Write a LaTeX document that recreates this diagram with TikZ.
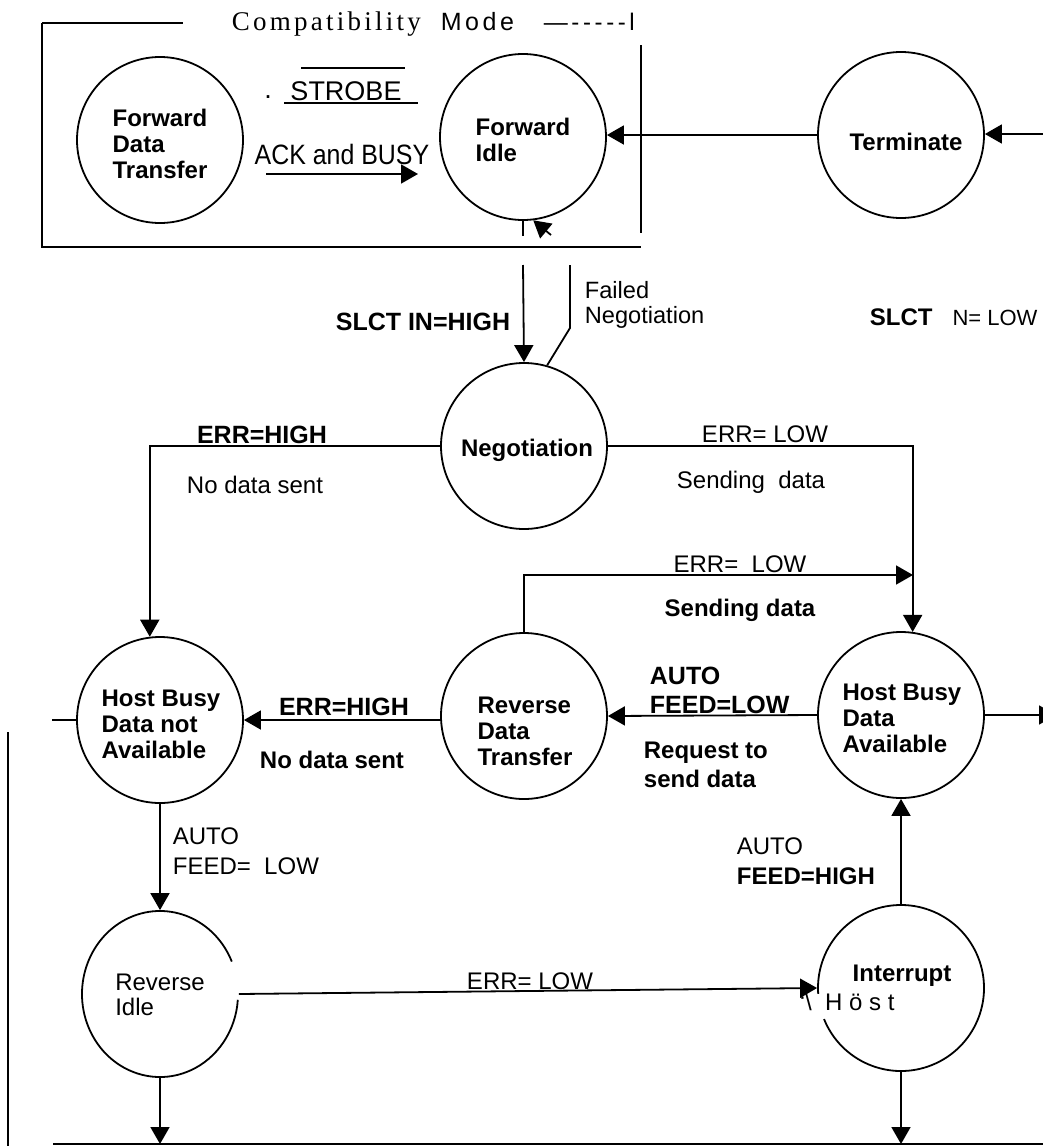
\documentclass[tikz,border=0pt]{standalone}
\usepackage{fontspec}
\setmainfont{Liberation Sans}
\newfontfamily\titleserif{Liberation Serif}[LetterSpace=12]
\newfontfamily\titlesans{Liberation Sans}[LetterSpace=14]
\newfontfamily\dashfont{Liberation Sans}[LetterSpace=15]
\newfontfamily\narrowsans{Liberation Sans}[FakeStretch=0.89]
\usetikzlibrary{arrows.meta,calc,shapes.geometric}

\begin{document}
\begin{tikzpicture}[x=0.5pt,y=-0.5pt,line width=0.9pt,
  stnode/.style={circle,draw,minimum size=83pt,inner sep=0pt},
  stext/.style={font=\fontsize{12}{13}\selectfont\bfseries,align=left,inner sep=0pt},
  lab/.style={font=\fontsize{12}{13}\selectfont,align=left,inner sep=0pt},
  blab/.style={font=\fontsize{12.5}{14.5}\selectfont\bfseries,align=left,inner sep=0pt},
  arr/.style={-{Triangle[length=8.5pt,width=9.5pt]}},
]
\useasboundingbox (0,0) rectangle (1043,1146);
\clip (0,0) rectangle (1043,1146);

% ---- compatibility mode frame and title
\node[anchor=base west,inner sep=0,font=\titleserif\fontsize{13.5}{15}\selectfont] (ttlA) at (231,30) {Compatibility};
\node[anchor=base west,inner sep=0,font=\titlesans\fontsize{12.5}{15}\selectfont] (ttlB) at (440,30) {Mode};
\node[anchor=base west,inner sep=0,font=\dashfont\fontsize{12}{14}\selectfont] (ttlC) at (543,30) {—-{}-{}-{}-{}-l};
\draw (42,23) -- (183,23);
\draw (42,23) -- (42,247) -- (641,247);
\draw (641,45) -- (641,233);

% ---- states
\node[stnode] (fdt) at (160,140) {};
\node[stnode] (fi) at (523,137) {};
\node[stnode] (term) at (901,135) {};
\node[stnode] (neg) at (524,446) {};
\node[stnode] (hbdna) at (160,720) {};
\node[stnode] (rdt) at (524,716) {};
\node[stnode] (hbda) at (901,715) {};
\node[circle,minimum size=83pt,inner sep=0pt] (intr) at (901,988) {};
\node[ellipse,minimum width=78pt,minimum height=83pt,inner sep=0pt] (ridle) at (160,994) {};
% outlines with their small breaks
\draw[shift={(ridle.center)}] (23:39pt and 41.5pt) arc[start angle=23,end angle=356,x radius=39pt,y radius=41.5pt];
\draw[shift={(intr.center)}] (202:41.5pt) arc[start angle=202,end angle=544,radius=41.5pt];

% ---- state names
\node[stext] (fdtt) at (160,144) {Forward\\Data\\Transfer};
\node[stext] (fit) at (523,140) {Forward\\Idle};
\node[stext] (termt) at (906,142) {Terminate};
\node[stext] (negt) at (527,450) {Negotiation};
\node[stext] (hbdnat) at (161,724) {Host Busy\\Data not\\Available};
\node[stext] (rdtt) at (525,731) {Reverse\\Data\\Transfer};
\node[stext] (hbdat) at (902,718) {Host Busy\\Data\\Available};
\node[lab,font=\fontsize{12}{12.5}\selectfont] (ridlet) at (160,995) {Reverse\\Idle};
\node[stext] (intrt) at (902,976) {Interrupt};
\node[lab,anchor=west] (hostt) at (799,1002) {‘\textbackslash\ \ H ö s t};

% ---- strobe / ack labels
\node[inner sep=0,font=\fontsize{13.5}{15}\selectfont] (strobe) at (346,91) {STROBE};
\node[inner sep=0,font=\fontsize{13.5}{15}\selectfont] (dot) at (268,97) {.};
\draw (301,68) -- (405,68);
\draw (284,103) -- (418,103);
\node[inner sep=0,font=\narrowsans\fontsize{14}{16}\selectfont] (ack) at (342,154) {ACK and BUSY};
\coordinate (ackA) at (266,174);
\coordinate (ackB) at (418,174);
\draw[arr] (ackA) -- (ackB);

% ---- connectors at the top
\coordinate (rin) at (1045,134);
\draw[arr] (rin) -- (rin -| term.east);
\draw[arr] (term.west) -- (term.west -| fi.east);
\draw (fi.south) -- ++(0,15);
\coordinate (slctA) at (523,265);
\draw[arr] (slctA) -- (neg.north);
\coordinate (failA) at (570,265);
\coordinate (failB) at (570,328);
\draw (failA) -- (failB) -- (neg.74);
\coordinate (failC) at (551,235);
\draw[arr] (failC) -- (fi.-83);

\node[blab] (lslct) at (423,322) {SLCT IN=HIGH};
\node[lab,anchor=west,font=\fontsize{11.8}{12.5}\selectfont] (lfail) at (584,305) {Failed\\Negotiation};
\node[anchor=west,inner sep=0,font=\fontsize{11}{13}\selectfont] (lslctn) at (869,317) {{\fontsize{12}{13}\selectfont\bfseries SLCT}\hspace{10pt}N= LOW};

% ---- negotiation outcomes
\draw[arr] (neg.west) -| (hbdna.97);
\draw[arr] (neg.east) -| (hbda.82);
\node[blab] (lerrh1) at (262,435) {ERR=HIGH};
\node[lab] (lnod1) at (255,485) {No data sent};
\node[lab] (lerrl1) at (765,434) {ERR= LOW};
\node[lab] (lsend1) at (751,482) {Sending\ \ data};

% ---- reverse data transfer loop
\coordinate (join) at (913,575);
\draw[arr] (rdt.north) |- (join);
\node[lab] (lerrl2) at (740,564) {ERR=\ \ LOW};
\node[blab,font=\fontsize{12}{13}\selectfont\bfseries] (lsend2) at (740,610) {Sending data};
\draw[arr] (hbda.west) -- (rdt.east);
\node[blab,anchor=west] (lautol) at (649,690) {AUTO\\FEED=LOW};
\node[blab,anchor=west,font=\fontsize{12}{14.5}\selectfont\bfseries] (lreq) at (643,765) {Request to\\send data};
\coordinate (rout) at (1056,715);
\draw[arr] (hbda.east) -- (rout);
\draw[arr] (rdt.west |- hbdna.east) -- (hbdna.east);
\node[blab] (lerrh2) at (344,707) {ERR=HIGH};
\node[blab,font=\fontsize{12}{13}\selectfont\bfseries] (lnod2) at (332,760) {No data sent};

% ---- left side and lower states
\coordinate (lstub) at (52,720);
\draw (hbdna.west) -- (lstub);
\coordinate (lvA) at (8,732);
\coordinate (lvB) at (8,1146);
\draw (lvA) -- (lvB);
\draw[arr] (hbdna.south) -- (ridle.north);
\node[lab,anchor=west,font=\fontsize{12}{15}\selectfont] (lautoi) at (172,851) {AUTO\\FEED=\ \ LOW};
\draw[arr] (ridle.east) -- (intr.west);
\node[lab] (lerrl3) at (530,981) {ERR= LOW};
\draw[arr] (intr.north) -- (hbda.south);
\node[lab,anchor=west,font=\fontsize{12}{15}\selectfont] (lautoh) at (736,861) {AUTO\\\textbf{FEED=HIGH}};

% ---- exits at the bottom
\coordinate (rbot) at (160,1144);
\coordinate (ibot) at (901,1144);
\draw[arr] (ridle.south) -- (rbot);
\draw[arr] (intr.south) -- (ibot);
\coordinate (botA) at (53,1144);
\coordinate (botB) at (1043,1144);
\draw[line width=1.3pt] (botA) -- (botB);
\end{tikzpicture}
\end{document}
